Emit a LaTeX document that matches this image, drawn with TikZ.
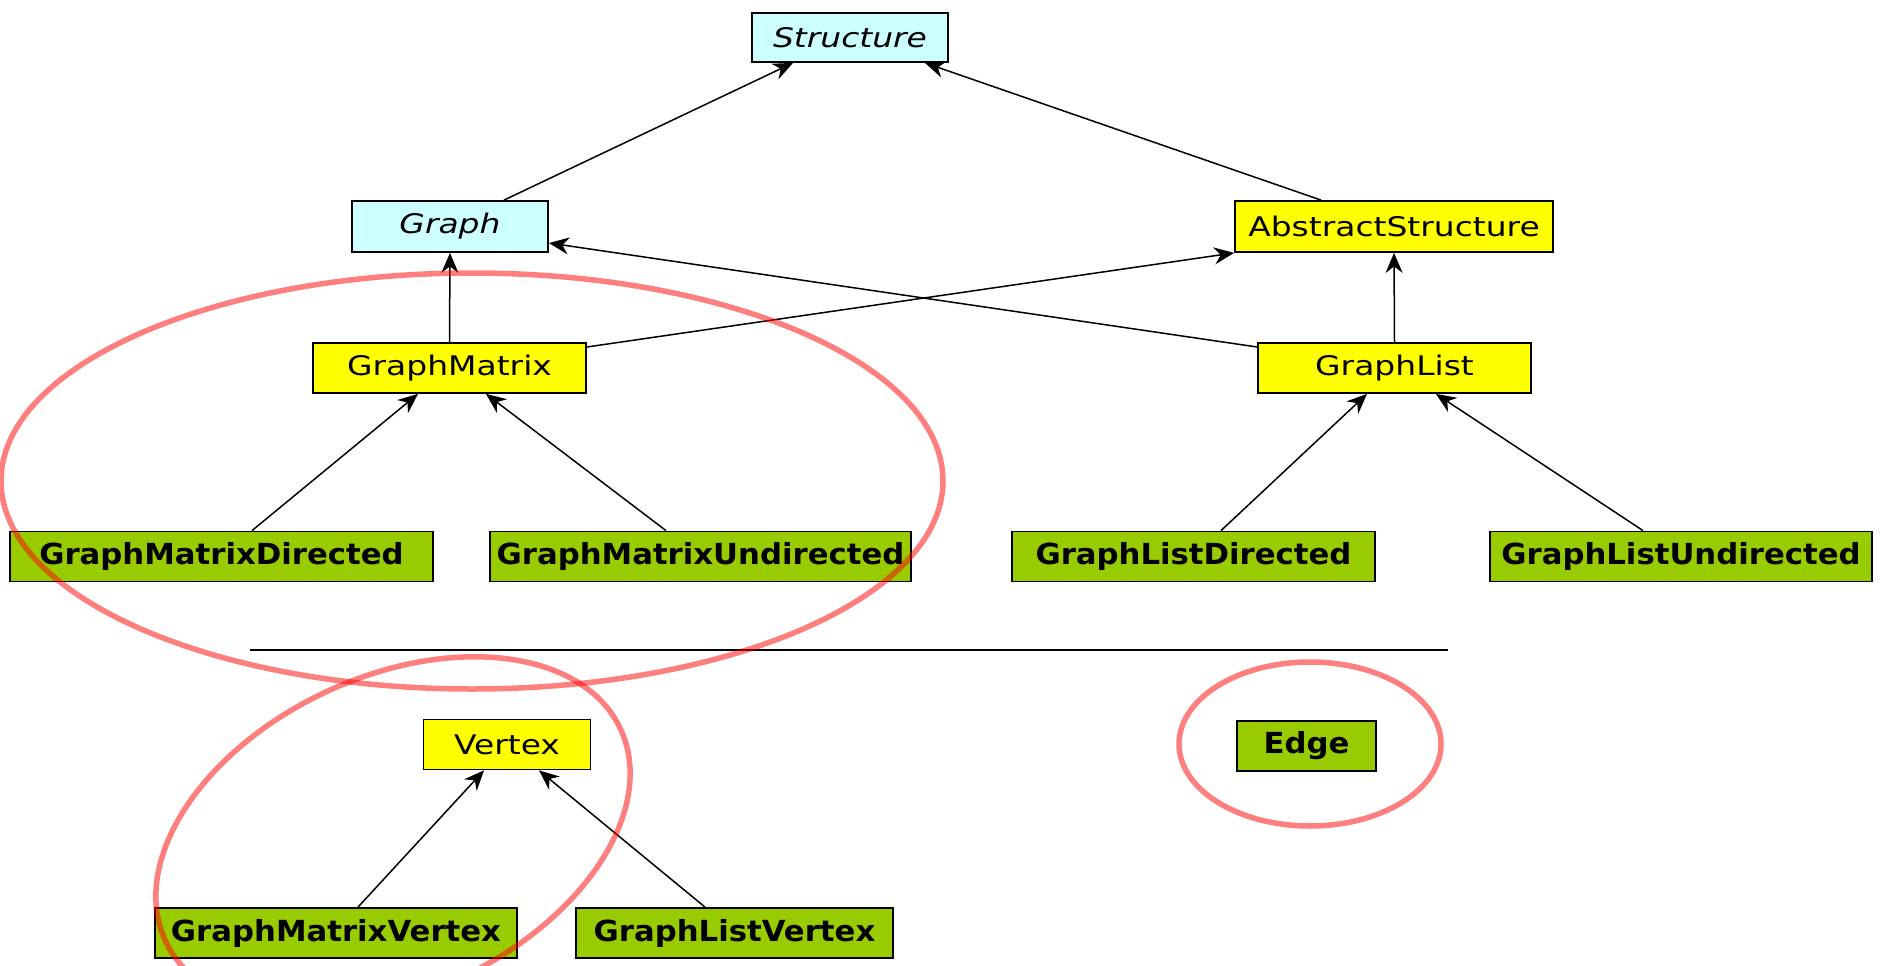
\documentclass[tikz,border=0pt]{standalone}
\usepackage{fontspec}
\setmainfont{DejaVu Sans}
\newfontfamily\regfont{DejaVu Sans}[FakeStretch=1.22]
\newfontfamily\boldfont{DejaVu Sans}[FakeStretch=1.06]
\usetikzlibrary{calc,arrows.meta}
\definecolor{ifacecol}{RGB}{204,255,255}
\definecolor{abstcol}{RGB}{255,255,0}
\definecolor{concol}{RGB}{153,204,0}
\tikzset{inhtip/.tip={Stealth[length=20pt,width=17pt,inset=6.5pt]}}
\begin{document}
\begin{tikzpicture}[x=1pt,y=-1pt,
  cls/.style={draw=black, line width=1.8pt, inner sep=0pt, anchor=center},
  iface/.style={cls, fill=ifacecol, font=\regfont\itshape\fontsize{27}{32}\selectfont},
  abst/.style={cls, fill=abstcol, font=\regfont\fontsize{27}{32}\selectfont},
  conc/.style={cls, fill=concol, font=\boldfont\bfseries\fontsize{29}{34}\selectfont},
  inh/.style={draw=black, line width=1.5pt, -inhtip},
  hl/.style={draw=red, draw opacity=0.5, line width=5.5pt}]
\useasboundingbox (0,0) rectangle (1883,966);

% class boxes
\node[iface, minimum width=196, minimum height=49] (structure) at (850,37.5) {Structure};
\node[iface, minimum width=196, minimum height=51] (graph) at (450,226.5) {Graph};
\node[abst, minimum width=318, minimum height=51] (abs) at (1394,226.5) {AbstractStructure};
\node[abst, minimum width=273, minimum height=50] (gm) at (449.5,368) {GraphMatrix};
\node[abst, minimum width=273, minimum height=50] (gl) at (1394.5,368) {GraphList};
\node[conc, minimum width=423, minimum height=50] (gmd) at (221.5,556.5) {GraphMatrixDirected};
\node[conc, minimum width=421, minimum height=50] (gmu) at (700.5,556.5) {GraphMatrixUndirected};
\node[conc, minimum width=363, minimum height=50] (gld) at (1193.5,556.5) {GraphListDirected};
\node[conc, minimum width=382, minimum height=50] (glu) at (1681,556.5) {GraphListUndirected};
\node[abst, minimum width=167, minimum height=50] (vertex) at (507,744.5) {Vertex};
\node[conc, minimum width=362, minimum height=50] (gmv) at (336,933) {GraphMatrixVertex};
\node[conc, minimum width=317, minimum height=50] (glv) at (734.5,933) {GraphListVertex};
\node[conc, minimum width=139, minimum height=50] (edge) at (1306.5,746) {Edge};

% separator
\coordinate (sepl) at (250,650);
\coordinate (sepr) at (1448,650);
\draw[line width=1.4pt] (sepl) -- (sepr);

% inheritance arrows
\draw[inh] ($(graph.north)+(54,0)$) -- ($(structure.south)+(-57,0)$);
\draw[inh] ($(abs.north)+(-73,0)$) -- ($(structure.south)+(75,0)$);
\draw[inh] (gm.north) -- (graph.south);
\draw[inh] ($(gm.east)+(0,-21)$) -- (abs.south west);
\draw[inh] ($(gl.west)+(0,-21)$) -- ($(graph.east)+(0,16.5)$);
\draw[inh] (gl.north) -- (abs.south);
\draw[inh] ($(gmd.north)+(30.5,0)$) -- ($(gm.south)+(-31.5,0)$);
\draw[inh] ($(gmu.north)+(-34.5,0)$) -- ($(gm.south)+(36.5,0)$);
\draw[inh] ($(gld.north)+(27.5,0)$) -- ($(gl.south)+(-27.5,0)$);
\draw[inh] ($(glu.north)+(-38,0)$) -- ($(gl.south)+(41.5,0)$);
\draw[inh] ($(gmv.north)+(22,0)$) -- ($(vertex.south)+(-23,0)$);
\draw[inh] ($(glv.north)+(-29.5,0)$) -- ($(vertex.south)+(32,0)$);

% highlight rings
\draw[hl] (472,481) ellipse [x radius=471, y radius=208];
\draw[hl] (1310,744) ellipse [x radius=131, y radius=82];
\draw[hl, rotate around={25:(393,835)}] (393,835) ellipse [x radius=251, y radius=158];
\end{tikzpicture}
\end{document}
